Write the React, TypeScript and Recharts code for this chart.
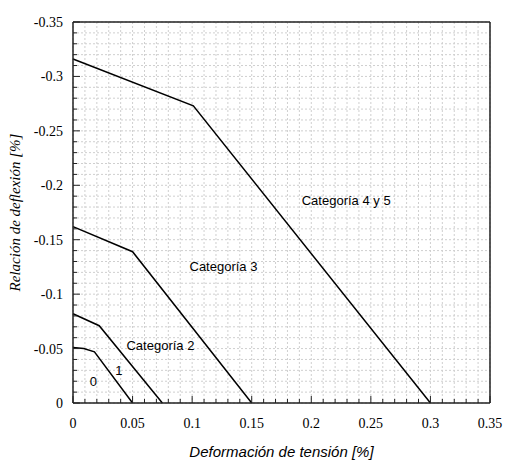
import { LineChart, Line, XAxis, YAxis, CartesianGrid, ReferenceDot } from "recharts";

// major tick labels
const xMajor = [0, 0.05, 0.1, 0.15, 0.2, 0.25, 0.3, 0.35];
const yMajor = [0, -0.05, -0.1, -0.15, -0.2, -0.25, -0.3, -0.35];

// category curves (x: deformación, y: relación de deflexión)
const cat0X = [0, 0.009, 0.018, 0.05];
const cat0Y = [-0.051, -0.05, -0.047, 0];
const cat1X = [0, 0.022, 0.075];
const cat1Y = [-0.082, -0.071, 0];
const cat3X = [0, 0.05, 0.15];
const cat3Y = [-0.162, -0.139, 0];
const cat45X = [0, 0.101, 0.3];
const cat45Y = [-0.316, -0.273, 0];

// annotation texts and where they sit (data coords)
const noteText = ["Categoría 4 y 5", "Categoría 3", "Categoría 2", "1", "0"];
const noteX = [0.2293, 0.1263, 0.0734, 0.0386, 0.017];
const noteY = [-0.186, -0.1253, -0.0533, -0.0303, -0.0202];

const toData = (xs: number[], ys: number[]) => xs.map((x, i) => ({ x, y: ys[i] }));
const series = [
  { name: "0", data: toData(cat0X, cat0Y) },
  { name: "1", data: toData(cat1X, cat1Y) },
  { name: "3", data: toData(cat3X, cat3Y) },
  { name: "4y5", data: toData(cat45X, cat45Y) },
];

// minor grid every 0.01
const xMinor = Array.from({ length: 36 }, (_, i) => i / 100);
const yMinor = Array.from({ length: 36 }, (_, i) => (i === 0 ? 0 : -i / 100));

const isMajor = (v: number) => Math.round(Math.abs(v) * 100) % 5 === 0;
const FRAME = "#222";
const serif = "'Liberation Serif', 'Times New Roman', serif";
const sans = "'Liberation Sans', Arial, sans-serif";
const serifStyle = { fontFamily: serif, fontSize: 14 };

const BottomTick = (p: any) => {
  const v = p.payload.value;
  const len = isMajor(v) ? 7 : 4;
  return (
    <g>
      <line x1={p.x} y1={p.y} x2={p.x} y2={p.y - len} stroke={FRAME} strokeWidth={1} />
      {xMajor.some((m) => Math.abs(m - v) < 1e-9) && (
        <text x={p.x} y={p.y + 25} textAnchor="middle" style={serifStyle} fill="#000">
          {String(v)}
        </text>
      )}
    </g>
  );
};

const TopTick = (p: any) => {
  const len = isMajor(p.payload.value) ? 7 : 4;
  return <line x1={p.x} y1={p.y} x2={p.x} y2={p.y + len} stroke={FRAME} strokeWidth={1} />;
};

const LeftTick = (p: any) => {
  const v = p.payload.value;
  const len = isMajor(v) ? 7 : 4;
  return (
    <g>
      <line x1={p.x} y1={p.y} x2={p.x + len} y2={p.y} stroke={FRAME} strokeWidth={1} />
      {yMajor.some((m) => Math.abs(m - v) < 1e-9) && (
        <text x={p.x - 10} y={p.y + 5} textAnchor="end" style={serifStyle} fill="#000">
          {String(v)}
        </text>
      )}
    </g>
  );
};

const RightTick = (p: any) => {
  const len = isMajor(p.payload.value) ? 7 : 4;
  return <line x1={p.x} y1={p.y} x2={p.x - len} y2={p.y} stroke={FRAME} strokeWidth={1} />;
};

export default function App() {
  return (
    <div style={{ position: "absolute", left: 8, top: 8, width: 499, height: 452 }}>
      <LineChart width={499} height={452} margin={{ top: 0, right: 0, bottom: 0, left: 0 }}>
        <CartesianGrid
          stroke="#cfcfcf"
          strokeDasharray="2 2"
          verticalValues={xMinor}
          horizontalValues={yMinor}
        />
        <XAxis
          type="number"
          dataKey="x"
          domain={[0, 0.35]}
          ticks={xMinor}
          interval={0}
          height={57}
          tickSize={0}
          tickMargin={0}
          tickLine={false}
          tick={BottomTick}
          axisLine={{ stroke: FRAME, strokeWidth: 1.5 }}
          label={{
            content: (lp: any) => {
              const vb = lp.viewBox || { x: 65, y: 395, width: 417, height: 57 };
              return (
                <text
                  x={vb.x + vb.width / 2}
                  y={vb.y + 54}
                  textAnchor="middle"
                  style={{ fontFamily: sans, fontStyle: "italic", fontSize: 15 }}
                  fill="#000"
                >
                  Deformación de tensión [%]
                </text>
              );
            },
          }}
        />
        <XAxis
          xAxisId="top"
          orientation="top"
          type="number"
          domain={[0, 0.35]}
          ticks={xMinor}
          interval={0}
          height={14}
          tickSize={0}
          tickMargin={0}
          tickLine={false}
          tick={TopTick}
          axisLine={{ stroke: FRAME, strokeWidth: 1.5 }}
        />
        <YAxis
          type="number"
          domain={[-0.35, 0]}
          reversed
          ticks={yMinor}
          interval={0}
          width={65}
          tickSize={0}
          tickMargin={0}
          tickLine={false}
          tick={LeftTick}
          axisLine={{ stroke: FRAME, strokeWidth: 1.5 }}
          label={{
            content: (lp: any) => {
              const vb = lp.viewBox || { x: 0, y: 14, width: 65, height: 381 };
              const cx = vb.x + 12;
              const cy = vb.y + vb.height / 2;
              return (
                <text
                  x={cx}
                  y={cy}
                  transform={`rotate(-90, ${cx}, ${cy})`}
                  textAnchor="middle"
                  style={{ fontFamily: serif, fontStyle: "italic", fontSize: 15 }}
                  fill="#000"
                >
                  Relación de deflexión [%]
                </text>
              );
            },
          }}
        />
        <YAxis
          yAxisId="right"
          orientation="right"
          type="number"
          domain={[-0.35, 0]}
          reversed
          ticks={yMinor}
          interval={0}
          width={17}
          tickSize={0}
          tickMargin={0}
          tickLine={false}
          tick={RightTick}
          axisLine={{ stroke: FRAME, strokeWidth: 1.5 }}
        />
        {series.map((s) => (
          <Line
            key={s.name}
            data={s.data}
            dataKey="y"
            type="linear"
            stroke="#000"
            strokeWidth={1.5}
            dot={false}
            activeDot={false}
            isAnimationActive={false}
          />
        ))}
        {noteText.map((t, i) => (
          <ReferenceDot
            key={t}
            x={noteX[i]}
            y={noteY[i]}
            r={0}
            fill="none"
            stroke="none"
            label={{
              value: t,
              position: "center",
              fontFamily: sans,
              fontSize: 13,
              fill: "#000",
            }}
          />
        ))}
      </LineChart>
    </div>
  );
}
